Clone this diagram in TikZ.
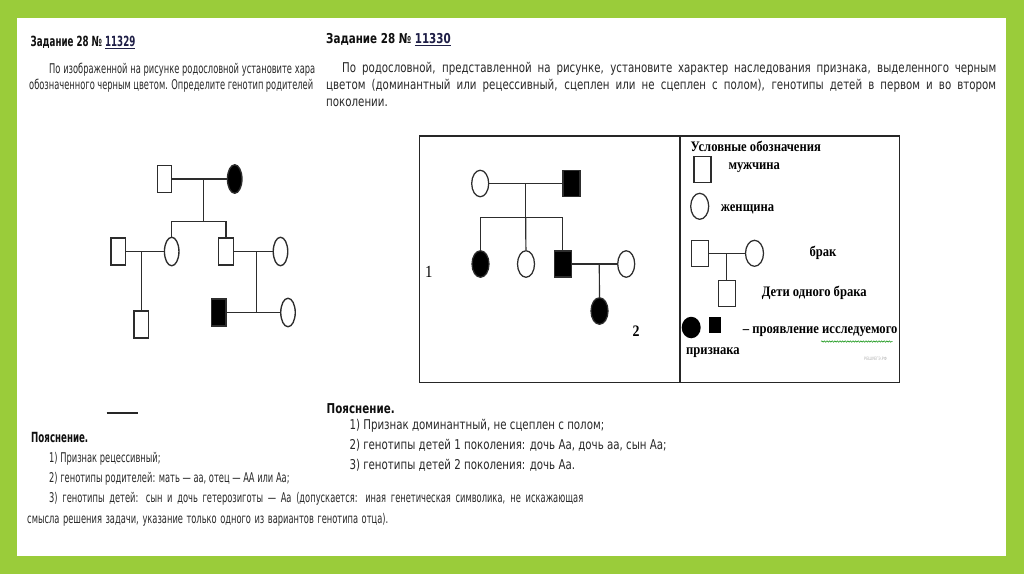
\documentclass[tikz,border=0pt]{standalone}
\usepackage{fontspec}
\setmainfont{DejaVu Sans}
\newfontfamily\rfont[FakeStretch=0.76]{DejaVu Sans}
\newfontfamily\lfont[FakeStretch=0.62]{DejaVu Sans}
\newfontfamily\tfont[FakeStretch=0.87]{Liberation Serif}
\usetikzlibrary{shapes.geometric,decorations.pathmorphing}
\definecolor{frame}{RGB}{154,204,58}
\definecolor{txt}{RGB}{40,40,40}
\definecolor{ttl}{RGB}{15,15,15}
\definecolor{lnk}{RGB}{30,30,70}
\definecolor{pline}{RGB}{45,45,45}
\tikzset{
  conn/.style={draw=pline,line width=1.35pt},
  lsq/.style={rectangle,draw=pline,line width=1.35pt,inner sep=0pt,minimum width=14.5pt,minimum height=27pt},
  lfem/.style={ellipse,draw=pline,line width=1.35pt,inner sep=0pt,minimum width=14.5pt,minimum height=28.5pt},
  rsq/.style={rectangle,draw=pline,line width=1.25pt,inner sep=0pt,minimum width=17pt,minimum height=26pt},
  rfem/.style={ellipse,draw=pline,line width=1.25pt,inner sep=0pt,minimum width=17pt,minimum height=26.5pt},
  aff/.style={fill=black},
  ltxt/.style={anchor=west,inner sep=0pt,text=txt,font=\lfont\fontsize{13.4}{15}\selectfont},
  rtxt/.style={anchor=west,inner sep=0pt,text=txt,font=\rfont\fontsize{13.5}{15}\selectfont},
  leg/.style={anchor=west,inner sep=0pt,text=black,font=\tfont\bfseries\fontsize{14.5}{16}\selectfont},
}
\begin{document}
\begin{tikzpicture}[x=1pt,y=-1pt]
\useasboundingbox (0,0) rectangle (1024,574);
\fill[frame] (0,0) rectangle (1024,574);
\fill[white] (17,18) rectangle (1006,556);

% ---------- left task ----------
\node[ltxt,text=ttl,font=\lfont\bfseries\fontsize{14}{15}\selectfont] (lt) at (30.5,42.5) {Задание 28 № {\color{lnk}\underline{11329}}};
\node[ltxt] (lp1) at (49,69.5) {\makebox[266pt][s]{По изображенной на рисунке родословной установите хара}};
\node[ltxt] (lp2) at (29,85.5) {\makebox[284pt][s]{обозначенного черным цветом. Определите генотип родителей}};

% left pedigree
\node[lsq] (L1m) at (164.5,179) {};
\node[lfem,aff] (L1f) at (234.7,179) {};
\coordinate (L1c) at (203.3,179);
\coordinate (L1s) at (203.3,221.7);
\node[lsq] (L2a) at (118.3,251.5) {};
\node[lfem] (L2b) at (171.7,251.5) {};
\node[lsq] (L2c) at (226,251.5) {};
\node[lfem] (L2d) at (280.5,251.5) {};
\coordinate (L2ab) at (141.3,251.5);
\coordinate (L2cd) at (256.7,251.5);
\node[lsq] (L3a) at (141.3,324.5) {};
\node[lsq,aff] (L3b) at (218.7,312.5) {};
\node[lfem] (L3c) at (288,312.5) {};
\coordinate (L3bc) at (256.7,312.5);
\draw[conn] (L1m) -- (L1f);
\draw[conn] (L1c) -- (L1s);
\draw[conn] (L2b) |- (L1s) -| (L2c);
\draw[conn] (L2a) -- (L2b);
\draw[conn] (L2ab) -- (L3a);
\draw[conn] (L2c) -- (L2d);
\draw[conn] (L2cd) -- (L3bc);
\draw[conn] (L3b) -- (L3c);

% dash
\coordinate (d1) at (106.5,412.5);
\coordinate (d2) at (137.5,412.5);
\draw[line width=2pt,draw=black!85] (d1) -- (d2);

% left explanation
\node[ltxt,text=ttl,font=\lfont\bfseries\fontsize{14}{15}\selectfont] (le0) at (31,437.5) {Пояснение.};
\node[ltxt] (le1) at (49,459) {1) Признак рецессивный;};
\node[ltxt] (le2) at (49,479) {2) генотипы родителей: мать — аа, отец — АА или Аа;};
\node[ltxt] (le3) at (49,499) {\makebox[534pt][s]{3) генотипы детей: сын и дочь гетерозиготы — Аа (допускается: иная генетическая символика, не искажающая}};
\node[ltxt] (le4) at (27,520) {\makebox[361pt][s]{смысла решения задачи, указание только одного из вариантов генотипа отца).}};

% ---------- right task ----------
\node[rtxt,text=ttl,font=\rfont\bfseries\fontsize{13.6}{15}\selectfont] (rt) at (326,40) {Задание 28 № {\color{lnk}\underline{11330}}};
\node[rtxt] (rp1) at (342,69) {\makebox[654pt][s]{По родословной, представленной на рисунке, установите характер наследования признака, выделенного черным}};
\node[rtxt] (rp2) at (326,86) {\makebox[670pt][s]{цветом (доминантный или рецессивный, сцеплен или не сцеплен с полом), генотипы детей в первом и во втором}};
\node[rtxt] (rp3) at (326,102.5) {поколении.};

% box
\draw[line width=1.3pt,draw=black!85] (419.3,136) rectangle (899.3,382.3);
\coordinate (dv1) at (680,136);
\coordinate (dv2) at (680,382.3);
\draw[line width=1.3pt,draw=black!85] (dv1) -- (dv2);

% right pedigree
\node[rfem] (R1f) at (480.2,183.5) {};
\node[rsq,aff] (R1m) at (571.5,183.5) {};
\coordinate (R1c) at (525.7,183.5);
\coordinate (R1s) at (525.7,217.3);
\node[rfem,aff] (R2a) at (480.5,264) {};
\node[rfem] (R2b) at (526,264) {};
\node[rsq,aff] (R2c) at (562.8,264) {};
\node[rfem] (R2d) at (626.2,264) {};
\coordinate (R2cd) at (599.3,264);
\node[rfem,aff] (R3a) at (599.5,311) {};
\draw[conn,line width=1.2pt] (R1f) -- (R1m);
\draw[conn,line width=1.2pt] (R1c) -- (R1s);
\draw[conn,line width=1.2pt] (R2a) |- (R1s) -| (R2c);
\draw[conn,line width=1.2pt] (R1s) -- (R2b);
\draw[conn,line width=1.2pt] (R2c) -- (R2d);
\draw[conn,line width=1.2pt] (R2cd) -- (R3a);
\node[anchor=west,inner sep=0pt,font=\tfont\fontsize{17}{18}\selectfont] (g1) at (425,271.5) {1};
\node[anchor=west,inner sep=0pt,font=\tfont\bfseries\fontsize{16}{18}\selectfont] (g2) at (632.5,331.5) {2};

% legend
\node[leg] (lg0) at (690.5,146) {Условные обозначения};
\node[rsq] (Gm) at (702.5,169.7) {};
\node[leg] (lg1) at (728.3,168) {мужчина};
\node[rfem,minimum width=18pt,minimum height=26pt] (Gf) at (699.7,206.3) {};
\node[leg] (lg2) at (720.7,209) {женщина};
\node[rsq] (Gmm) at (700,253.3) {};
\node[rfem,minimum width=18pt,minimum height=26pt] (Gmf) at (754.5,253.3) {};
\coordinate (Gc) at (726.8,253.3);
\node[rsq] (Gch) at (726.8,293.3) {};
\draw[conn,line width=1.2pt] (Gmm) -- (Gmf);
\draw[conn,line width=1.2pt] (Gc) -- (Gch);
\node[leg] (lg3) at (809.3,253.3) {брак};
\node[leg] (lg4) at (761.7,293.3) {Дети одного брака};
\node[ellipse,fill=black,inner sep=0pt,minimum width=19pt,minimum height=21.5pt] (Gaf) at (691.2,327.5) {};
\node[rectangle,fill=black,inner sep=0pt,minimum width=11.5pt,minimum height=15.5pt] (Gam) at (714.8,325) {};
\node[leg] (lg5) at (742.7,332) {– проявление исследуемого};
\node[leg] (lg6) at (686,352.5) {признака};
\coordinate (w1) at (821,341.5);
\coordinate (w2) at (892.5,341.5);
\draw[draw=green!55!black,line width=0.5pt,decorate,decoration={snake,amplitude=0.7pt,segment length=2.6pt}] (w1) -- (w2);
\node[anchor=west,inner sep=0pt,text=black!30,font=\rfont\fontsize{4.5}{5}\selectfont] (wm) at (864,359) {РЕШУЕГЭ.РФ};

% right explanation
\node[rtxt,text=ttl,font=\rfont\bfseries\fontsize{13.6}{15}\selectfont] (re0) at (326.5,409) {Пояснение.};
\node[rtxt] (re1) at (349.3,425.5) {1) Признак доминантный, не сцеплен с полом;};
\node[rtxt] (re2) at (349.3,445) {2) генотипы детей 1 поколения: дочь Аа, дочь аа, сын Аа;};
\node[rtxt] (re3) at (349.3,465) {3) генотипы детей 2 поколения: дочь Аа.};
\end{tikzpicture}
\end{document}
